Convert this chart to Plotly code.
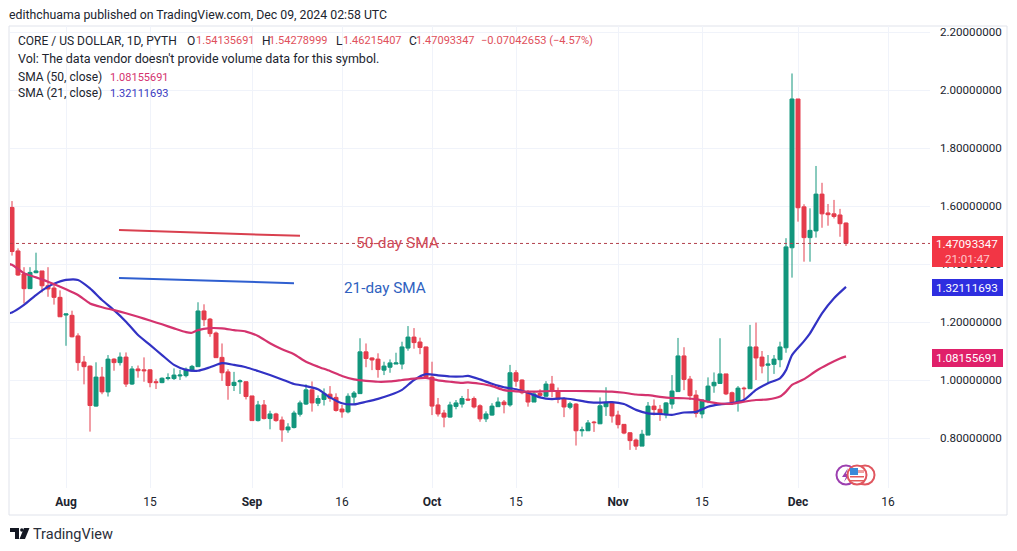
import pandas as pd
import plotly.graph_objects as go

start_date = "2024-07-23"
opens = [1.595,1.445,1.366,1.315,1.370,1.376,1.325,1.317,1.285,1.224,1.223,1.152,1.062,1.048,.910,1.010,.959,1.072,1.060,1.079,
 .986,1.038,1.035,1.035,.994,.991,1.005,1.005,1.014,1.015,1.032,1.046,1.238,1.210,1.162,1.078,1.028,.981,.994,.994,
 .945,.860,.914,.867,.883,.862,.828,.836,.882,.917,.966,.920,.933,.951,.940,.900,.890,.941,.953,1.097,
 1.076,1.072,1.034,1.044,1.055,1.055,1.110,1.148,1.131,1.114,1.010,.914,.886,.872,.909,.917,.934,.936,.911,.866,
 .879,.908,.924,.914,1.025,1.000,.960,.924,.954,.944,.986,.962,.936,.906,.917,.825,.825,.855,.849,.908,
 .922,.879,.847,.818,.793,.772,.810,.910,.899,.880,.917,.960,1.083,1.003,.948,.883,.929,.980,.988,1.021,
 .956,.922,.972,.970,1.114,1.079,1.051,1.054,1.070,1.111,1.456,1.969,1.597,1.491,1.514,1.641,1.576,1.573,1.569,1.5414]
highs = [1.617,1.454,1.389,1.389,1.439,1.376,1.389,1.331,1.309,1.228,1.239,1.161,1.083,1.050,1.061,1.045,1.086,1.075,1.095,1.095,
 1.048,1.050,1.078,1.037,1.004,1.009,1.023,1.040,1.035,1.043,1.052,1.268,1.261,1.214,1.167,1.126,1.037,1.028,1.002,.995,
 .945,.928,.931,.894,.887,.874,.851,.894,.929,.985,.995,.947,.971,.979,.954,.914,.954,.962,1.144,1.126,
 1.078,1.092,1.063,1.071,1.094,1.132,1.186,1.179,1.146,1.115,1.063,.938,.897,.925,.931,.945,.969,.943,.916,.892,
 .920,.940,.931,1.052,1.034,1.002,.965,.960,.968,.996,1.014,.974,.940,.925,.920,.839,.862,.859,.940,.975,
 .925,.894,.848,.820,.798,.828,.924,.933,.914,.924,1.017,1.145,1.113,1.014,.965,.933,1.009,1.026,1.144,1.021,
 .960,.979,.977,1.190,1.198,1.100,1.086,1.086,1.132,1.489,2.057,1.969,1.606,1.592,1.738,1.680,1.607,1.621,1.590,1.5428]
lows = [1.429,1.359,1.264,1.315,1.368,1.302,1.287,1.260,1.218,1.118,1.147,1.032,.985,.822,.908,.951,.943,1.032,1.050,.976,
 .983,1.008,.994,.975,.969,.989,.999,1.000,1.000,1.009,1.029,1.046,1.186,1.149,1.077,.997,.932,.962,.952,.933,
 .860,.857,.864,.830,.856,.787,.818,.833,.874,.914,.891,.910,.912,.925,.891,.870,.885,.914,.953,1.044,
 1.034,1.008,1.017,1.025,1.055,1.037,1.101,1.108,1.089,1.008,.879,.874,.837,.870,.899,.905,.928,.902,.856,.855,
 .877,.908,.885,.908,.977,.951,.908,.924,.940,.942,.940,.920,.872,.899,.774,.805,.824,.821,.848,.876,
 .853,.833,.813,.759,.759,.772,.810,.878,.859,.868,.901,.959,.965,.931,.871,.868,.920,.956,.988,.948,
 .914,.891,.931,.970,1.000,1.023,.986,1.021,1.044,1.094,1.353,1.546,1.408,1.408,1.491,1.525,1.532,1.557,1.494,1.4622]
closes = [1.443,1.362,1.315,1.371,1.376,1.325,1.314,1.285,1.218,1.228,1.149,1.060,1.046,.912,1.010,.959,1.072,1.060,1.079,.986,
 1.038,1.032,1.032,.991,.991,1.006,1.008,1.017,1.017,1.037,1.047,1.238,1.208,1.160,1.077,1.025,.981,.992,.997,.943,
 .860,.914,.867,.883,.860,.828,.838,.886,.921,.966,.921,.936,.954,.937,.895,.890,.944,.955,1.097,1.074,
 1.069,1.036,1.048,1.059,1.059,1.114,1.148,1.129,1.112,1.010,.910,.883,.872,.914,.921,.936,.931,.907,.866,.883,
 .910,.924,.915,1.025,.996,.956,.924,.952,.947,.986,.961,.934,.907,.918,.825,.828,.852,.853,.911,.922,
 .876,.846,.817,.791,.772,.813,.910,.898,.883,.921,.962,1.083,1.002,.946,.885,.931,.979,.992,1.021,.952,
 .922,.972,.970,1.114,1.076,1.048,1.055,1.072,1.114,1.459,1.969,1.594,1.491,1.516,1.641,1.573,1.570,1.564,1.539,1.4709]

sma21_days = [-1,0,2,4,6,7,9,11,13,15,17,19,21,23,25,27,29,31,33,35,37,39,41,43,45,47,49,51,53,55,57,59,61,63,65,67,69,71,73,75,
 76,78,80,82,84,86,88,90,92,94,96,98,100,102,104,106,108,110,112,114,116,118,120,122,124,126,128,129,130,132,133,135,137,139]
sma21_vals = [1.228,1.233,1.259,1.293,1.322,1.332,1.345,1.345,1.316,1.276,1.241,1.201,1.155,1.121,1.086,1.052,1.035,1.032,1.044,1.058,1.052,1.044,1.031,1.017,1.002,.986,.979,.968,.940,.920,.916,.925,.935,.948,.966,1.000,1.020,1.016,1.012,1.012,
 1.014,1.002,.987,.975,.968,.956,.940,.934,.937,.931,.924,.922,.924,.917,.897,.885,.883,.880,.888,.890,.908,.916,.920,.931,.966,.989,1.006,1.034,1.086,1.134,1.161,1.230,1.282,1.32111693]
sma50_days = [-1,0,2,4,6,9,11,13,15,17,19,21,23,25,27,29,30,31,33,35,37,39,41,43,45,47,49,51,53,55,57,59,61,63,65,67,69,71,73,75,
 76,78,80,82,84,86,90,94,98,100,102,104,106,108,110,112,114,116,118,120,122,124,126,128,129,130,132,134,136,138,139]
sma50_vals = [1.402,1.397,1.368,1.354,1.339,1.313,1.293,1.264,1.251,1.241,1.230,1.218,1.205,1.192,1.178,1.165,1.163,1.172,1.179,1.178,1.172,1.167,1.152,1.127,1.106,1.089,1.063,1.046,1.031,1.014,1.002,.997,.994,.995,1.000,1.005,1.007,.999,.994,.990,
 .992,.987,.979,.965,.961,.960,.962,.962,.961,.960,.956,.950,.948,.942,.938,.937,.934,.925,.919,.918,.925,.931,.933,.943,.960,.983,1.003,1.031,1.054,1.074,1.08155691]

tick_dates = ["2024-08-01","2024-08-15","2024-09-01","2024-09-16","2024-10-01","2024-10-15","2024-11-01","2024-11-15","2024-12-01","2024-12-16"]
tick_labels = ["<b>Aug</b>","15","<b>Sep</b>","16","<b>Oct</b>","15","<b>Nov</b>","15","<b>Dec</b>","16"]
price_ticks = [0.8,1.0,1.2,1.4,1.6,1.8,2.0,2.2]

note_red_x = ["2024-08-09 20:00","2024-09-09 00:00"]
note_red_y = [1.517,1.497]
note_blue_x = ["2024-08-09 20:00","2024-09-08 00:00"]
note_blue_y = [1.352,1.334]

RED, GREEN = "#e43c4c", "#12967d"
BLUE, PINK = "#3232c4", "#d4336e"
FONT = "Roboto"
TXT = "#20242e"
L, R, T, B = 10, 930, 26, 488

dates = pd.date_range(start_date, periods=len(opens), freq="D")
def d_at(idx):
    return [pd.Timestamp(start_date) + pd.Timedelta(days=i) for i in idx]

fig = go.Figure()
fig.add_trace(go.Candlestick(x=dates, open=opens, high=highs, low=lows, close=closes,
    increasing=dict(line=dict(color=GREEN, width=1), fillcolor=GREEN),
    decreasing=dict(line=dict(color=RED, width=1), fillcolor=RED), showlegend=False))
fig.add_trace(go.Scatter(x=d_at(sma21_days), y=sma21_vals, mode="lines", line=dict(color=BLUE, width=2.2, shape="spline", smoothing=0.6), showlegend=False))
fig.add_trace(go.Scatter(x=d_at(sma50_days), y=sma50_vals, mode="lines", line=dict(color=PINK, width=2.2, shape="spline", smoothing=0.6), showlegend=False))
fig.add_trace(go.Scatter(x=note_red_x, y=note_red_y, mode="lines", line=dict(color="#d9404f", width=2), showlegend=False))
fig.add_trace(go.Scatter(x=note_blue_x, y=note_blue_y, mode="lines", line=dict(color="#2f5fd0", width=2), showlegend=False))

def fx(p): return (p - L) / (R - L)
def fy(p): return (B - p) / (B - T)

shapes = []
def rect(x0, y0, x1, y1, fill=None, line=None, lw=1, layer="above"):
    shapes.append(dict(type="rect", xref="paper", yref="paper", x0=fx(x0), x1=fx(x1), y0=fy(y0), y1=fy(y1),
                       fillcolor=fill or "rgba(0,0,0,0)", line=dict(color=line or "rgba(0,0,0,0)", width=lw), layer=layer))
def circle(cx, cy, r, fill, line, lw=2):
    shapes.append(dict(type="circle", xref="paper", yref="paper", x0=fx(cx-r), x1=fx(cx+r), y0=fy(cy+r), y1=fy(cy-r),
                       fillcolor=fill, line=dict(color=line, width=lw), layer="above"))
def poly(points, fill):
    path = "M " + " L ".join(f"{fx(x):.5f} {fy(y):.5f}" for x, y in points) + " Z"
    shapes.append(dict(type="path", xref="paper", yref="paper", path=path, fillcolor=fill, line=dict(width=0), layer="above"))

rect(9, 26, 1007, 515, line="#e0e3eb", layer="below")
shapes.append(dict(type="line", xref="paper", yref="y", x0=0, x1=1, y0=closes[-1], y1=closes[-1],
                   line=dict(color="#b2404c", width=1, dash="dot"), layer="above"))
rect(932, 236, 1003, 267, fill="#f23645")
rect(932, 279, 1003, 296, fill="#2e2ee0")
rect(932, 349, 1003, 367, fill="#e0206a")
circle(846, 475, 9.5, "#ffffff", "#9c3fb0")
poly([(848,468),(842,477),(846,477),(844,482),(850,474),(846,474)], "#9c3fb0")
circle(865, 475, 9.5, "#ffffff", "#e0565f")
circle(857, 475, 9.5, "#ffffff", "#e0565f")
rect(850, 470, 864, 473, fill="#f0a0a0")
rect(850, 476, 864, 477.5, fill="#e45a5a")
rect(850, 480, 864, 481.5, fill="#e45a5a")
rect(850, 468, 858, 475, fill="#3a8ad8")
poly([(10,528),(19,528),(19,539),(15,539),(15,532),(10,532)], "#131722")
circle(21.8, 530, 1.7, "#131722", "#131722", 0)
poly([(24,528),(29.5,528),(25,539),(19.5,539)], "#131722")

ann = []
def text(x, y, s, size=12, color=TXT, anchor="left"):
    ann.append(dict(xref="paper", yref="paper", x=fx(x), y=fy(y), text=s, showarrow=False, xanchor=anchor, yanchor="middle",
                    font=dict(family=FONT, size=size, color=color), borderpad=0, borderwidth=0))

text(9, 15, "edithchuama published on TradingView.com, Dec 09, 2024 02:58 UTC", 12.3)
text(18, 41, "CORE / US DOLLAR, 1D, PYTH", 12)
for xl, lab, xv, val in [(187,"O",196,"1.54135691"),(262,"H",269,"1.54278999"),(336,"L",343,"1.46215407"),(409,"C",416,"1.47093347")]:
    text(xl, 41, lab, 12)
    text(xv, 41, val, 11, "#e0505c")
text(481, 41, "−0.07042653 (−4.57%)", 11.1, "#e0505c")
text(18, 59, "Vol: The data vendor doesn't provide volume data for this symbol.", 12.5)
text(18, 77, "SMA (50, close)", 12)
text(110, 77, "1.08155691", 11, "#d4336e")
text(18, 93.5, "SMA (21, close)", 12)
text(110, 93.5, "1.32111693", 11, "#3a3ac0")
text(356, 243, "50-day SMA", 15.5, "#cf4a58")
text(344, 288, "21-day SMA", 15.3, "#2f62c0")
text(967.5, 244, "1.47093347", 11.6, "#ffffff", "center")
text(967.5, 259, "21:01:47", 11.6, "#ffc8cc", "center")
text(967.5, 288, "1.32111693", 11.6, "#ffffff", "center")
text(967.5, 358, "1.08155691", 11.6, "#ffffff", "center")
text(33, 534, "TradingView", 14.5, "#2a2e39")

fig.update_layout(
    width=1017, height=551, margin=dict(l=L, r=1017-R, t=T, b=551-B, pad=0),
    paper_bgcolor="#ffffff", plot_bgcolor="#ffffff", showlegend=False,
    shapes=shapes, annotations=ann, font=dict(family=FONT, color=TXT, size=12), boxgap=0.05,
    xaxis=dict(type="date", range=["2024-07-22 16:00","2024-12-23 00:00"], rangeslider=dict(visible=False),
               tickmode="array", tickvals=tick_dates, ticktext=tick_labels, showgrid=True, gridcolor="#f0f3fa", gridwidth=1,
               zeroline=False, showline=False, ticks="", tickfont=dict(family=FONT, size=12, color=TXT), tickangle=0, ticklabelstandoff=5),
    yaxis=dict(side="right", range=[0.6276, 2.2207], tickmode="array", tickvals=price_ticks, tickformat=".8f",
               showgrid=True, gridcolor="#f0f3fa", gridwidth=1, zeroline=False, showline=False, ticks="",
               tickfont=dict(family=FONT, size=11.6, color=TXT), ticklabelstandoff=9),
)
fig.write_html("out.html", post_script="document.body.style.margin='0';", config=dict(displayModeBar=False))
